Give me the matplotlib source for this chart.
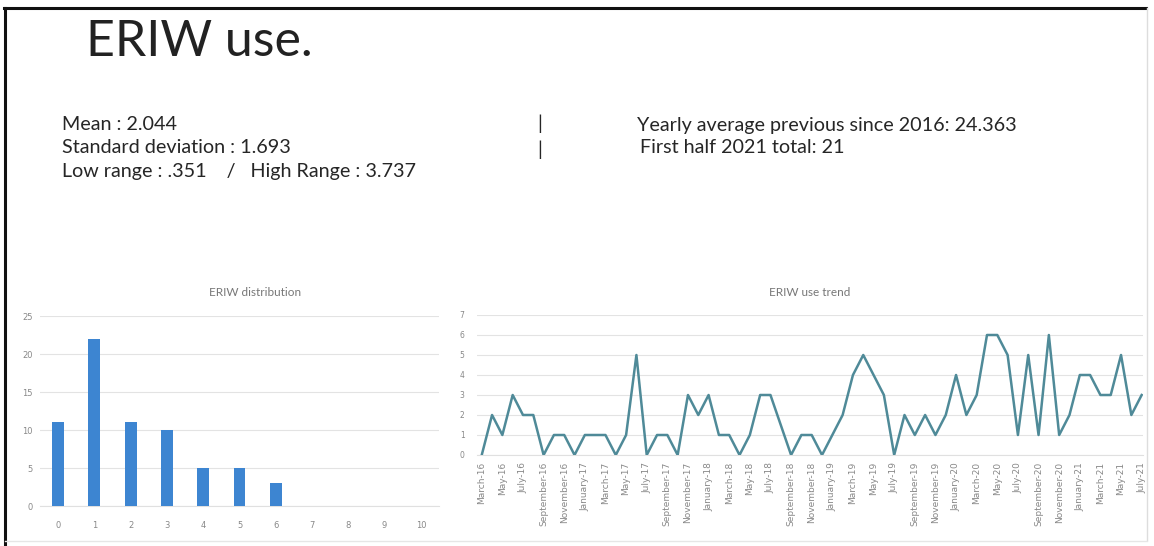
import numpy as np
import matplotlib
matplotlib.use("Agg")
import matplotlib.pyplot as plt
from matplotlib.lines import Line2D

# distribution (number of months with N uses)
dist_cats = [0, 1, 2, 3, 4, 5, 6, 7, 8, 9, 10]
dist_counts = [11, 22, 11, 10, 5, 5, 3, 0, 0, 0, 0]

# monthly use, March 2016 - July 2021
trend_vals = [0, 2, 1, 3, 2, 2, 0, 1, 1, 0, 1, 1, 1, 0, 1, 5, 0, 1, 1, 0,
              3, 2, 3, 1, 1, 0, 1, 3, 3, 1.5, 0, 1, 1, 0, 1, 2, 4, 5, 4, 3,
              0, 2, 1, 2, 1, 2, 4, 2, 3, 6, 6, 5, 1, 5, 1, 6, 1, 2, 4, 4,
              3, 3, 5, 2, 3]
trend_labels = ["March-16", "May-16", "July-16", "September-16", "November-16",
                "January-17", "March-17", "May-17", "July-17", "September-17",
                "November-17", "January-18", "March-18", "May-18", "July-18",
                "September-18", "November-18", "January-19", "March-19", "May-19",
                "July-19", "September-19", "November-19", "January-20", "March-20",
                "May-20", "July-20", "September-20", "November-20", "January-21",
                "March-21", "May-21", "July-21"]

W, H = 1154, 546
fig = plt.figure(figsize=(W / 100, H / 100), dpi=100)
fig.patch.set_facecolor("white")


def px(x, y):
    return x / W, 1 - y / H


def box(x0, y0, x1, y1):
    return [x0 / W, 1 - y1 / H, (x1 - x0) / W, (y1 - y0) / H]


# slide frame
fig.add_artist(Line2D([4 / W, 1146 / W], [1 - 8 / H, 1 - 8 / H], color="#111", lw=2.2))
fig.add_artist(Line2D([5 / W, 5 / W], [0, 1 - 8 / H], color="#111", lw=2.2))
fig.add_artist(Line2D([1147 / W, 1147 / W], [1 - 540 / H, 1 - 8 / H], color="#dddddd", lw=1))
fig.add_artist(Line2D([5 / W, 1147 / W], [1 - 541 / H, 1 - 541 / H], color="#e6e6e6", lw=1))

txt = dict(family=["Lato", "DejaVu Sans"], color="#262626")
fs = 14.2
fig.text(*px(86, 42), "ERIW use.", fontsize=36, va="center", ha="left",
         family=["Lato", "DejaVu Sans"], color="#222222")
fig.text(*px(62, 125), "Mean : 2.044", fontsize=fs, va="center", **txt)
fig.text(*px(62, 148), "Standard deviation : 1.693", fontsize=fs, va="center", **txt)
fig.text(*px(62, 172), "Low range : .351    /   High Range : 3.737", fontsize=fs, va="center", **txt)
fig.text(*px(540, 124), "|", fontsize=fs, va="center", ha="center", **txt)
fig.text(*px(540, 150), "|", fontsize=fs, va="center", ha="center", **txt)
fig.text(*px(637, 125), "Yearly average previous since 2016: 24.363", fontsize=fs, va="center", **txt)
fig.text(*px(640, 148), "First half 2021 total: 21", fontsize=fs, va="center", **txt)

small = dict(family=["Lato", "DejaVu Sans"], color="#777777")

# ---- ERIW distribution ----
ax1 = fig.add_axes(box(40, 316, 439, 506))
ax1.bar(dist_cats, dist_counts, width=0.33, color="#3d85d1", zorder=3)
ax1.set_xlim(-0.5, 10.5)
ax1.set_ylim(0, 25)
ax1.set_yticks([0, 5, 10, 15, 20, 25])
ax1.set_xticks(dist_cats)
ax1.grid(axis="y", color="#e3e3e3", lw=0.8, zorder=0)
for s in ["top", "right", "left"]:
    ax1.spines[s].set_visible(False)
ax1.spines["bottom"].set_color("#e0e0e0")
ax1.tick_params(length=0, labelsize=6, labelcolor="#888888", pad=5)
ax1.tick_params(axis="x", pad=11)
fig.text(*px(255, 292), "ERIW distribution", fontsize=8.5, ha="center", va="center", **small)

# ---- ERIW use trend ----
ax2 = fig.add_axes(box(477, 315, 1143, 455))
xs = np.arange(len(trend_vals))
ax2.plot(xs, trend_vals, color="#4f8a98", lw=1.8, zorder=3)
ax2.set_xlim(-0.46, 64.13)
ax2.set_ylim(0, 7)
ax2.set_yticks(range(8))
ax2.set_xticks(xs[::2])
ax2.set_xticklabels(trend_labels, rotation=90)
ax2.grid(axis="y", color="#e3e3e3", lw=0.8, zorder=0)
for s in ["top", "right", "left"]:
    ax2.spines[s].set_visible(False)
ax2.spines["bottom"].set_color("#e0e0e0")
ax2.tick_params(length=0, labelsize=5.5, labelcolor="#888888", pad=9)
ax2.tick_params(axis="x", labelsize=6.5, pad=5)
fig.text(*px(810, 292), "ERIW use trend", fontsize=8.5, ha="center", va="center", **small)

fig.savefig("out.png", dpi=100, facecolor="white")
